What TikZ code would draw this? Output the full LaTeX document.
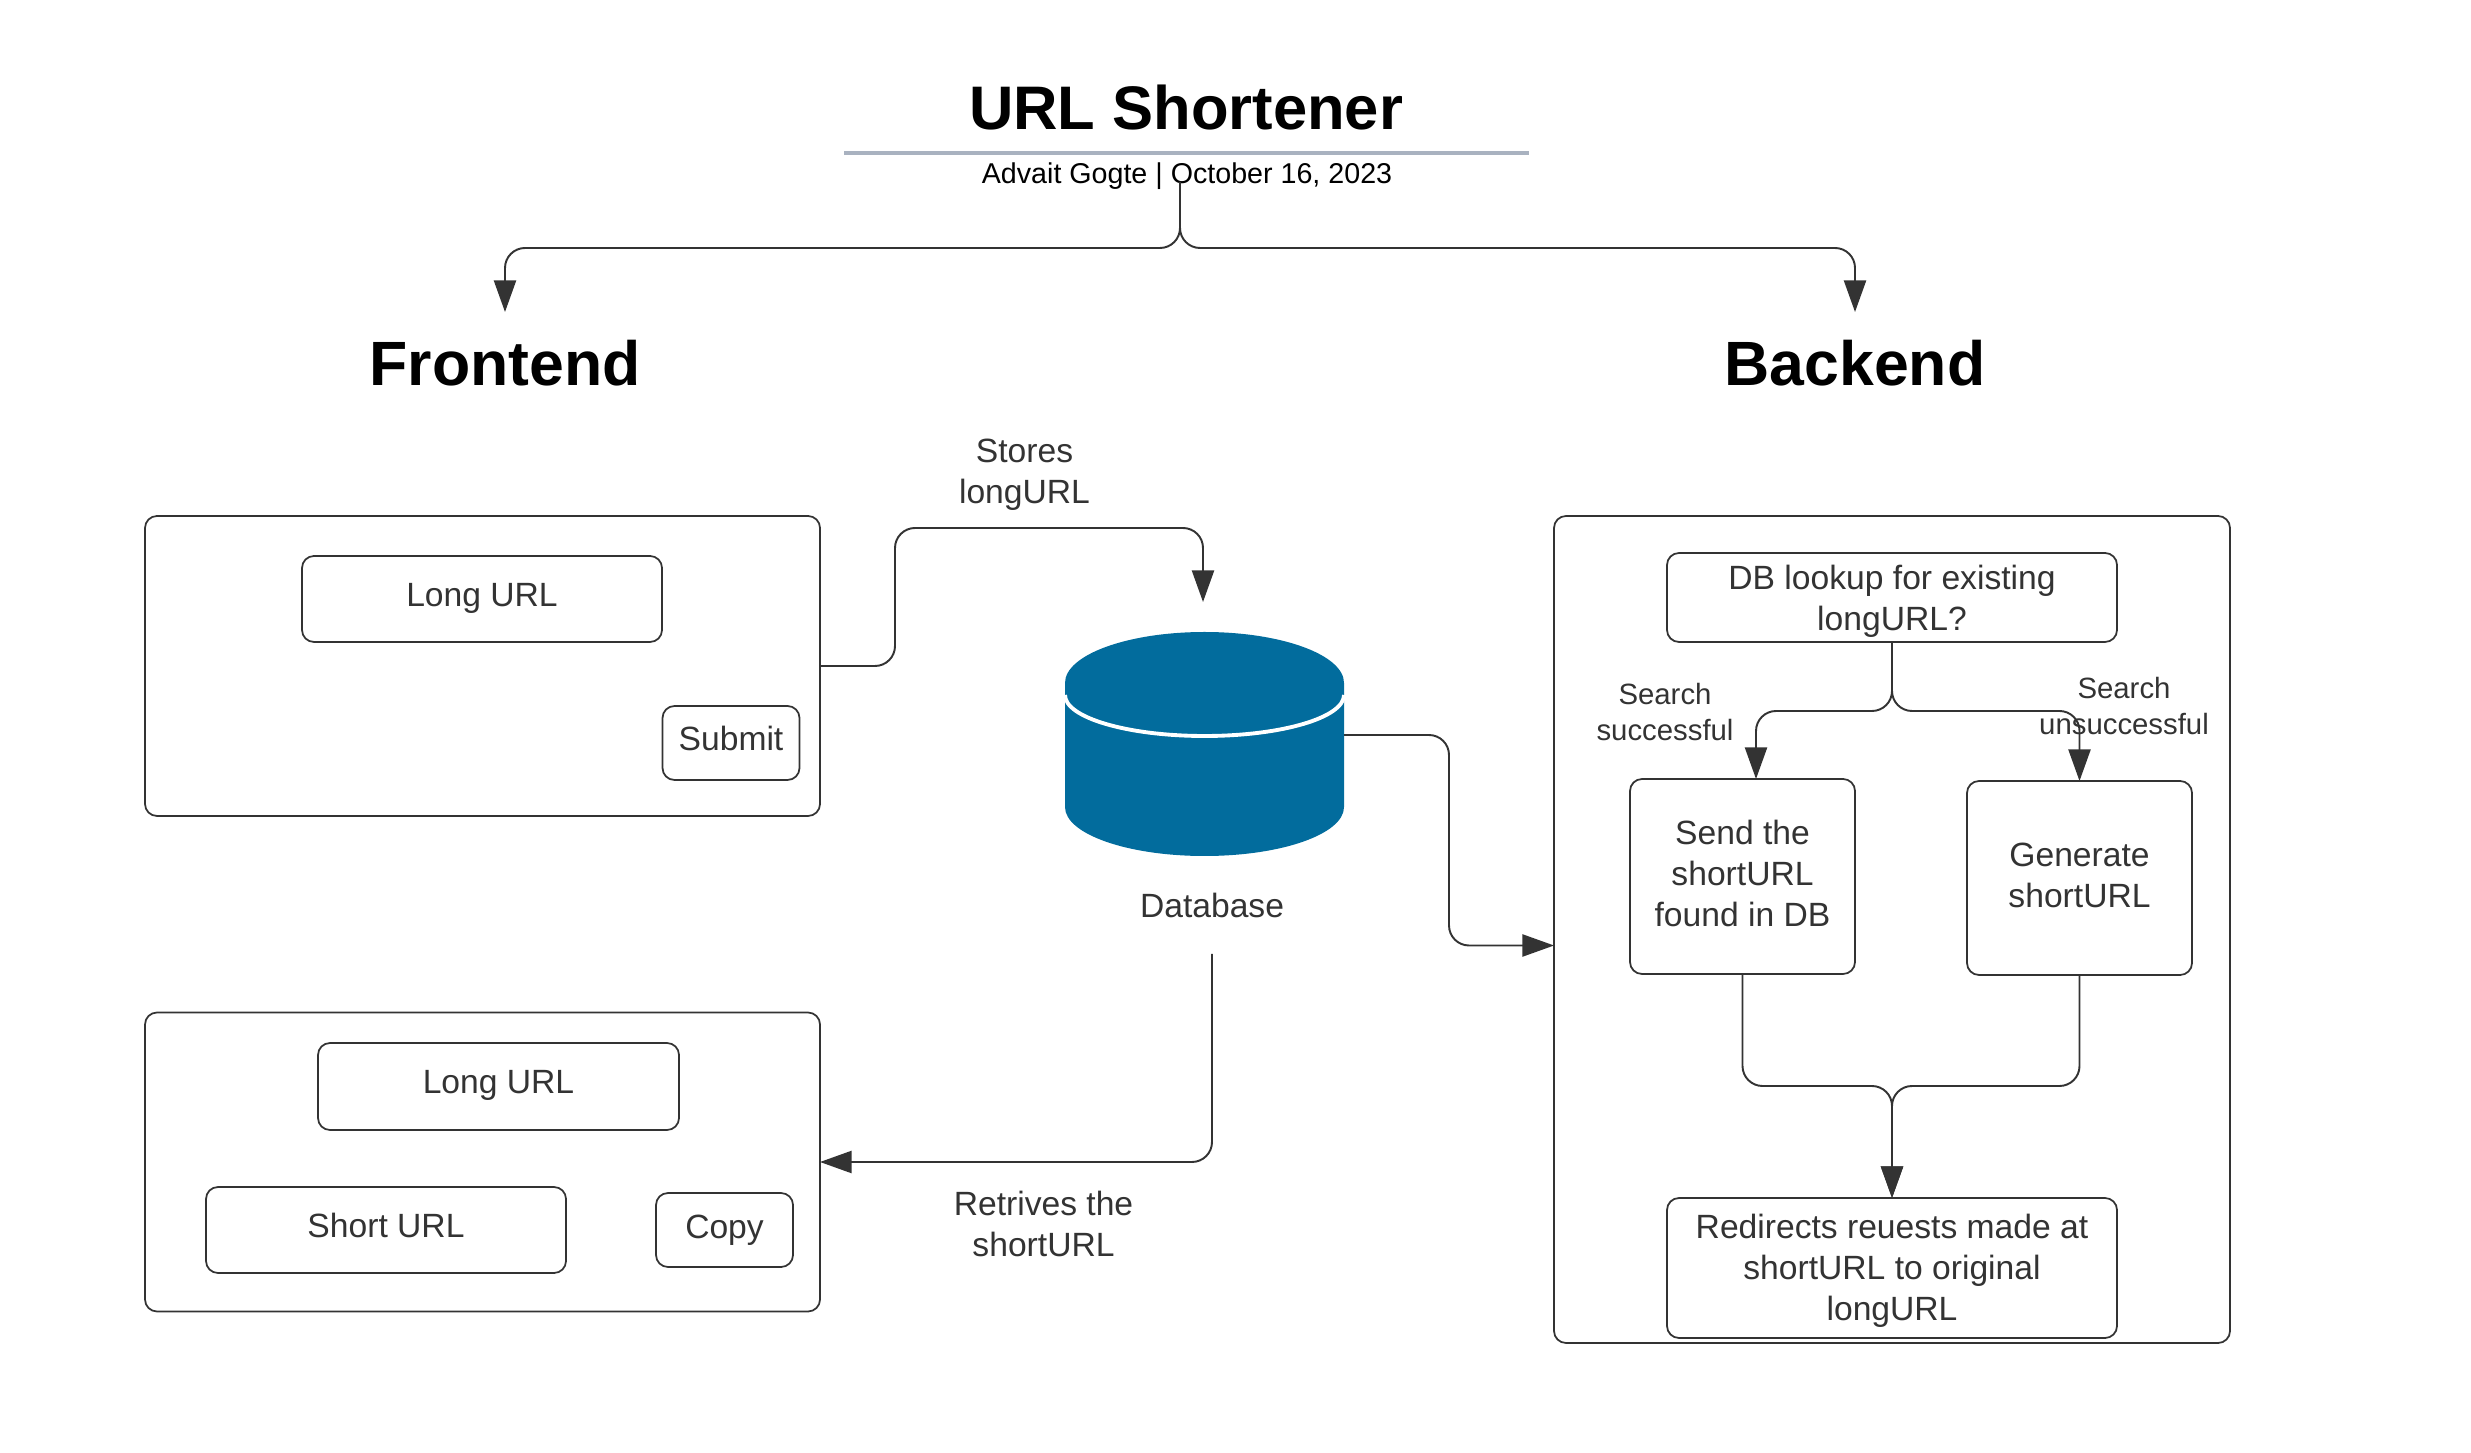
\documentclass[tikz,border=0pt]{standalone}
\usepackage{fontspec}
\setmainfont{Liberation Sans}
\usetikzlibrary{arrows.meta}
\definecolor{inkgray}{HTML}{333333}
\definecolor{rulegray}{HTML}{A9B2C0}
\definecolor{dbblue}{HTML}{026C9D}
\tikzset{
  panel/.style={draw=inkgray,line width=0.5pt,rounded corners=0.12cm,inner sep=0pt,outer sep=0pt,text=inkgray,align=center,font=\fontsize{9.57}{11.6}\selectfont},
  plain/.style={inner sep=0pt,outer sep=0pt,text=inkgray,align=center,font=\fontsize{9.57}{11.6}\selectfont},
  small/.style={plain,font=\fontsize{8.35}{10}\selectfont},
  heading/.style={inner sep=0pt,outer sep=0pt,font=\fontsize{17.8}{20}\selectfont\bfseries},
  link/.style={draw=inkgray,line width=0.55pt,rounded corners=0.2cm},
  arrowlink/.style={link,-{Triangle[length=9pt,width=6.3pt,fill=inkgray]}}
}
\begin{document}
\begin{tikzpicture}
\useasboundingbox (0,0) rectangle (24.71,-14.53);
% title block
\node[heading,font=\fontsize{17.5}{20}\selectfont\bfseries] (title) at (11.86,-1.08) {URL Shortener};
\draw[rulegray,line width=1.15pt] (8.44,-1.53) -- (15.29,-1.53);
\node[inner sep=0pt,font=\fontsize{8.15}{10}\selectfont] (byline) at (11.87,-1.76) {Advait Gogte | October 16, 2023};
\coordinate (fork) at (11.80,-1.82);
\node[heading,minimum height=1.02cm] (frontend) at (5.05,-3.63) {Frontend};
\node[heading,minimum height=1.02cm] (backend) at (18.55,-3.63) {Backend};
\draw[arrowlink] (fork) -- ++(0,-0.66) -| (frontend.north);
\draw[arrowlink] (fork) -- ++(0,-0.66) -| (backend.north);
% frontend panels
\node[panel,minimum width=6.75cm,minimum height=3.00cm] (forminput) at (4.825,-6.66) {};
\node[panel,minimum width=3.60cm,minimum height=0.86cm,text height=6pt] (longin) at (4.82,-5.99) {Long URL};
\node[panel,minimum width=1.37cm,minimum height=0.74cm,text height=4.6pt] (submit) at (7.31,-7.43) {Submit};
\node[panel,minimum width=6.75cm,minimum height=2.99cm] (formoutput) at (4.825,-11.62) {};
\node[panel,minimum width=3.61cm,minimum height=0.87cm,text height=6pt] (longout) at (4.985,-10.865) {Long URL};
\node[panel,minimum width=3.60cm,minimum height=0.86cm,text height=4.6pt] (shortout) at (3.86,-12.30) {Short URL};
\node[panel,minimum width=1.37cm,minimum height=0.74cm] (copy) at (7.245,-12.30) {Copy};
% database
\node[inner sep=0pt,outer sep=0pt,minimum width=2.79cm,minimum height=2.24cm] (db) at (12.045,-7.44) {};
\fill[dbblue] (10.65,-6.83) arc[start angle=180,end angle=0,x radius=1.395,y radius=0.51] -- (13.44,-8.07) arc[start angle=0,end angle=-180,x radius=1.395,y radius=0.49] -- cycle;
\draw[white,line width=1.1pt] (10.65,-6.95) arc[start angle=180,end angle=360,x radius=1.395,y radius=0.41];
\node[plain,minimum height=0.98cm] (dblabel) at (12.12,-9.05) {Database};
\coordinate (storeup) at (8.95,-5.28);
\coordinate (dbin) at (12.03,-6.02);
\node[plain] (storeslabel) at (10.245,-4.75) {Stores\\longURL};
\node[plain] (retriveslabel) at (10.435,-12.24) {Retrives the\\shortURL};
\draw[arrowlink] (forminput.east) -| (storeup) -| (dbin);
\draw[arrowlink] (dblabel.south) |- (formoutput.east);
% backend panels
\node[panel,minimum width=6.76cm,minimum height=8.27cm] (server) at (18.92,-9.295) {};
\draw[arrowlink] ([yshift=0.09cm]db.east) -- ++(1.05,0) |- ([yshift=-0.16cm]server.west);
\node[panel,minimum width=4.50cm,minimum height=0.89cm,text height=20.8pt] (lookup) at (18.92,-5.975) {DB lookup for existing\\longURL?};
\node[panel,minimum width=2.25cm,minimum height=1.95cm,text height=28.4pt] (sendurl) at (17.425,-8.765) {Send the\\shortURL\\found in DB};
\node[panel,minimum width=2.25cm,minimum height=1.94cm,text height=17pt] (genurl) at (20.795,-8.78) {Generate\\shortURL};
\node[panel,minimum width=4.50cm,minimum height=1.40cm,text height=31.8pt] (redirect) at (18.92,-12.68) {Redirects reuests made at\\shortURL to original\\longURL};
\node[small] (foundlabel) at (16.65,-7.12) {Search\\successful};
\node[small] (missedlabel) at (21.24,-7.06) {Search\\unsuccessful};
\coordinate (merge) at (18.92,-10.86);
\draw[arrowlink] (lookup.south) -- ++(0,-0.69) -| ([xshift=0.135cm]sendurl.north);
\draw[arrowlink] (lookup.south) -- ++(0,-0.69) -| (genurl.north);
\draw[arrowlink] (sendurl.south) |- (merge) -- (redirect.north);
\draw[arrowlink] (genurl.south) |- (merge) -- (redirect.north);
\end{tikzpicture}
\end{document}
